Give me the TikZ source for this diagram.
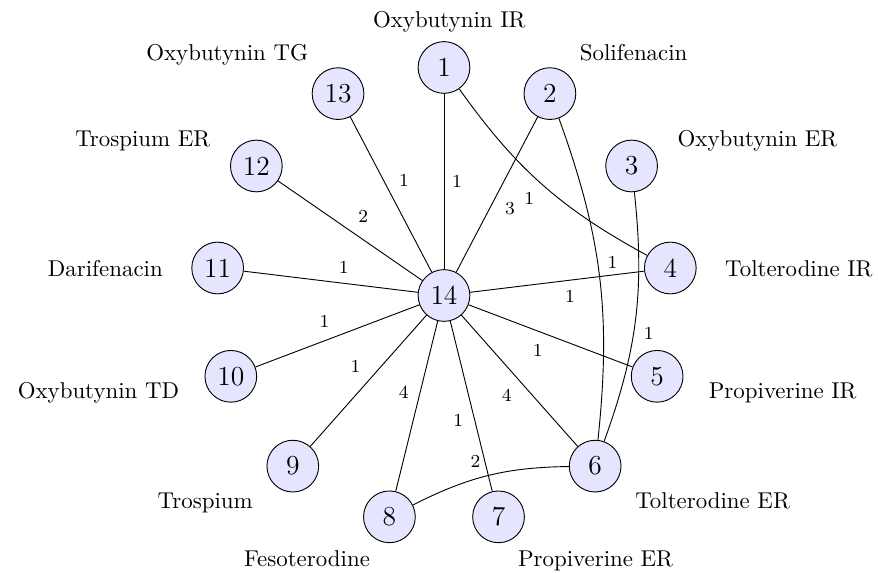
\documentclass[tikz,border=0pt]{standalone}
\usepackage{amsmath}

\tikzset{
  drug/.style={circle,draw,fill=blue!10,minimum size=22.6pt,inner sep=0pt,font=\large},
  lbl/.style={inner sep=0pt},
  wt/.style={font=\footnotesize,auto=right},
}

\begin{document}
\begin{tikzpicture}
%
  \useasboundingbox (-6.816,-4.260) rectangle (6.663,4.536);
%
  \node[drug] (n14) at (0,0) {14};
  \node[drug] (n1)  at (90:3.5)       {1};
  \node[drug] (n2)  at (62.308:3.5)   {2};
  \node[drug] (n3)  at (34.615:3.5)   {3};
  \node[drug] (n4)  at (6.923:3.5)    {4};
  \node[drug] (n5)  at (-20.769:3.5)  {5};
  \node[drug] (n6)  at (-48.462:3.5)  {6};
  \node[drug] (n7)  at (-76.154:3.5)  {7};
  \node[drug] (n8)  at (-103.846:3.5) {8};
  \node[drug] (n9)  at (-131.538:3.5) {9};
  \node[drug] (n10) at (-159.231:3.5) {10};
  \node[drug] (n11) at (173.077:3.5)  {11};
  \node[drug] (n12) at (145.385:3.5)  {12};
  \node[drug] (n13) at (117.692:3.5)  {13};
%
  \node[lbl,anchor=base]      (t1)  at (0.08,4.11)    {Oxybutynin IR};
  \node[lbl,anchor=base west] (t2)  at (2.08,3.60)    {Solifenacin};
  \node[lbl,anchor=base west] (t3)  at (3.58,2.284)   {Oxybutynin ER};
  \node[lbl,anchor=base west] (t4)  at (4.31,0.284)   {Tolterodine IR};
  \node[lbl,anchor=base west] (t5)  at (4.06,-1.58)   {Propiverine IR};
  \node[lbl,anchor=base west] (t6)  at (2.93,-3.27)   {Tolterodine ER};
  \node[lbl,anchor=base west] (t7)  at (1.13,-4.163)  {Propiverine ER};
  \node[lbl,anchor=base east] (t8)  at (-1.13,-4.163) {Fesoterodine};
  \node[lbl,anchor=base east] (t9)  at (-2.93,-3.27)  {Trospium};
  \node[lbl,anchor=base east] (t10) at (-4.06,-1.58)  {Oxybutynin TD};
  \node[lbl,anchor=base east] (t11) at (-4.31,0.284)  {Darifenacin};
  \node[lbl,anchor=base east] (t12) at (-3.58,2.284)  {Trospium ER};
  \node[lbl,anchor=base east] (t13) at (-2.08,3.60)   {Oxybutynin TG};
%
  \draw (n14) -- node[wt] {1} (n1);
  \draw (n14) -- node[wt] {3} (n2);
  \draw (n14) -- node[wt] {1} (n4);
  \draw (n14) -- node[wt] {1} (n5);
  \draw (n14) -- node[wt] {4} (n6);
  \draw (n14) -- node[wt] {1} (n7);
  \draw (n14) -- node[wt] {4} (n8);
  \draw (n14) -- node[wt] {1} (n9);
  \draw (n14) -- node[wt] {1} (n10);
  \draw (n14) -- node[wt] {1} (n11);
  \draw (n14) -- node[wt] {2} (n12);
  \draw (n14) -- node[wt] {1} (n13);
%
  \draw (n1) to[bend right=13] node[wt] {1} (n4);
  \draw (n6) to[bend right=13] node[wt] {1} (n2);
  \draw (n6) to[bend right=13] node[wt] {1} (n3);
  \draw (n6) to[bend right=13] node[wt] {2} (n8);
\end{tikzpicture}
\end{document}
